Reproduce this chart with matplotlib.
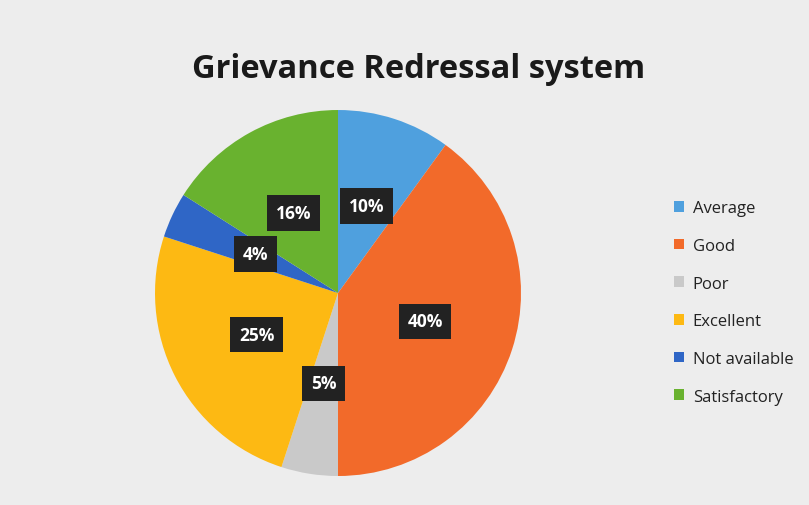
import matplotlib.pyplot as plt

labels = ['Average', 'Good', 'Poor', 'Excellent', 'Not available', 'Satisfactory']
shares = [10, 40, 5, 25, 4, 16]
colors = ['#4fa0de', '#f26a2a', '#c9c9c9', '#fdb913', '#2f66c6', '#69b22f']

fig = plt.figure(figsize=(8.09, 5.06), dpi=100)
fig.patch.set_facecolor('#ededed')

ax = fig.add_axes([0.1916, 0.0573, 0.4524, 0.7233])
wedges, texts, autotexts = ax.pie(
    shares, colors=colors, startangle=90, counterclock=False,
    autopct='%d%%', pctdistance=0.5, radius=1.0,
    wedgeprops=dict(linewidth=0))
for t in autotexts:
    t.set_color('white')
    t.set_fontsize(12.5)
    t.set_fontweight('bold')
    t.set_fontfamily('Open Sans')
    t.set_bbox(dict(boxstyle='square,pad=0.5', facecolor='#222222', edgecolor='none'))
ax.set_xlim(-1, 1)
ax.set_ylim(-1, 1)
ax.set_aspect('equal')

fig.text(0.517, 0.862, 'Grievance Redressal system', ha='center', va='center',
         fontsize=23.5, fontweight='bold', family='Open Sans', color='#1a1a1a')

leg = fig.legend(wedges, labels, loc='upper left', bbox_to_anchor=(0.815, 0.632),
                 frameon=False, handlelength=0.6, handleheight=0.6, handletextpad=0.5,
                 labelspacing=1.3, prop=dict(family='Open Sans', size=12))
for t in leg.get_texts():
    t.set_color('#222222')

fig.savefig('out.png', dpi=100, facecolor=fig.get_facecolor())
